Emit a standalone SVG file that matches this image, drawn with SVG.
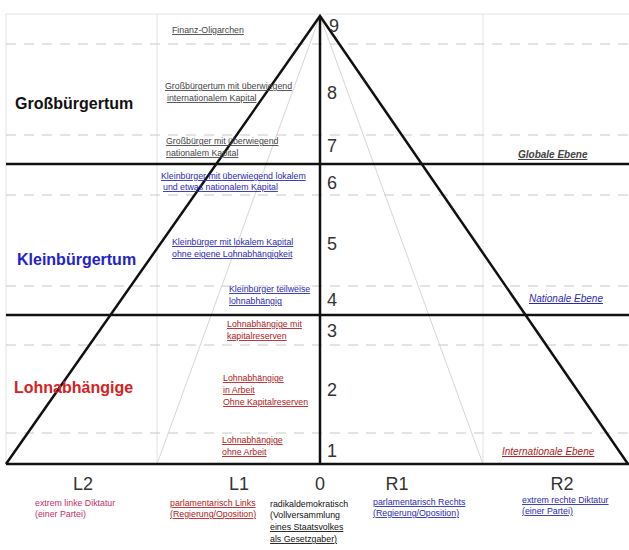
<svg xmlns="http://www.w3.org/2000/svg" width="629" height="550" viewBox="0 0 629 550">
<style>
.grid{stroke:#e2e2e2;stroke-width:1;fill:none}
.dash{stroke:#c8c8c8;stroke-width:1;stroke-dasharray:10,8;fill:none}
.thin{stroke:#d6d6d6;stroke-width:1;fill:none}
.heavy{stroke:#111;stroke-width:2.5;fill:none}
.num{font-family:"Liberation Sans",Arial,sans-serif;font-size:18px;fill:#333}
.big{font-family:"Liberation Sans",Arial,sans-serif;font-size:16px;font-weight:bold}
.sm{font-family:"Liberation Sans",Arial,sans-serif;font-size:8.8px;text-decoration:underline}
.lvl{font-family:"Liberation Sans",Arial,sans-serif;font-size:10px;font-style:italic;text-decoration:underline}
.grey{fill:#444}
.blue{fill:#2a2ab0}
.red{fill:#b02020}
</style>
<rect width="629" height="550" fill="#fff"/>
<g id="grid">
<line class="grid" x1="6" y1="14" x2="629" y2="14"/>
<line class="grid" x1="6" y1="14" x2="6" y2="464"/>
<line class="grid" x1="157" y1="14" x2="157" y2="464"/>
<line class="grid" x1="483" y1="14" x2="483" y2="464"/>
<line class="dash" x1="6" y1="44" x2="629" y2="44"/>
<line class="dash" x1="6" y1="135" x2="629" y2="135"/>
<line class="dash" x1="6" y1="195" x2="629" y2="195"/>
<line class="dash" x1="6" y1="286" x2="629" y2="286"/>
<line class="dash" x1="6" y1="345" x2="629" y2="345"/>
<line class="dash" x1="6" y1="433" x2="629" y2="433"/>
</g>
<g id="connectors">
<line class="thin" x1="320" y1="16" x2="157" y2="464"/>
<line class="thin" x1="320" y1="16" x2="483" y2="464"/>
<line class="heavy" x1="6" y1="164" x2="629" y2="164"/>
<line class="heavy" x1="6" y1="315" x2="629" y2="315"/>
<line class="heavy" x1="6" y1="464" x2="629" y2="464"/>
<line class="heavy" x1="320" y1="16" x2="320" y2="464"/>
<polyline class="heavy" points="6,464 320,16 628,464" stroke-linejoin="miter"/>
</g>
<g id="numbers">
<text class="num" x="329" y="32">9</text>
<text class="num" x="327" y="99">8</text>
<text class="num" x="327" y="152">7</text>
<text class="num" x="327" y="189">6</text>
<text class="num" x="327" y="250">5</text>
<text class="num" x="327" y="306">4</text>
<text class="num" x="327" y="337">3</text>
<text class="num" x="327" y="396">2</text>
<text class="num" x="327" y="457">1</text>
</g>
<g id="classes">
<text class="big" x="15" y="109" fill="#111">Großbürgertum</text>
<text class="big" x="17" y="265" fill="#2222cc">Kleinbürgertum</text>
<text class="big" x="14" y="393" fill="#d42222">Lohnabhängige</text>
</g>
<g id="n9"><text class="sm grey" x="172" y="33">Finanz-Oligarchen</text></g>
<g id="n8"><text class="sm grey" x="165" y="89">Großbürgertum mit überwiegend</text><text class="sm grey" x="167" y="101">internationalem Kapital</text></g>
<g id="n7"><text class="sm grey" x="166" y="144">Großbürger mit überwiegend</text><text class="sm grey" x="166" y="156">nationalem Kapital</text></g>
<g id="n6"><text class="sm blue" x="161" y="179">Kleinbürger mit überwiegend lokalem</text><text class="sm blue" x="163" y="190">und etwas nationalem Kapital</text></g>
<g id="n5"><text class="sm blue" x="172" y="245">Kleinbürger mit lokalem Kapital</text><text class="sm blue" x="172" y="257">ohne eigene Lohnabhängigkeit</text></g>
<g id="n4"><text class="sm blue" x="229" y="292">Kleinbürger teilweise</text><text class="sm blue" x="229" y="304">lohnabhängig</text></g>
<g id="n3"><text class="sm red" x="227" y="327">Lohnabhängige mit</text><text class="sm red" x="227" y="339">kapitalreserven</text></g>
<g id="n2"><text class="sm red" x="223" y="381">Lohnabhängige</text><text class="sm red" x="223" y="393">in Arbeit</text><text class="sm red" x="223" y="405">Ohne Kapitalreserven</text></g>
<g id="n1"><text class="sm red" x="222" y="443">Lohnabhängige</text><text class="sm red" x="222" y="455">ohne  Arbeit</text></g>
<g id="levels">
<text class="lvl grey" x="518" y="158" font-weight="bold">Globale Ebene</text>
<text class="lvl blue" x="529" y="302">Nationale Ebene</text>
<text class="lvl red" x="502" y="455">Internationale Ebene</text>
</g>
<g id="axis">
<text class="num" x="83" y="490" text-anchor="middle">L2</text>
<text class="num" x="239" y="490" text-anchor="middle">L1</text>
<text class="num" x="320" y="490" text-anchor="middle">0</text>
<text class="num" x="397" y="490" text-anchor="middle">R1</text>
<text class="num" x="562" y="490" text-anchor="middle">R2</text>
</g>
<g id="b-l2"><text class="sm" x="35" y="506" fill="#c0306a" style="text-decoration:none">extrem linke Diktatur</text><text class="sm" x="35" y="517" fill="#c0306a" style="text-decoration:none">(einer Partei)</text></g>
<g id="b-l1"><text class="sm red" x="170" y="506">parlamentarisch Links</text><text class="sm red" x="170" y="517">(Regierung/Oposition)</text></g>
<g id="b-0"><text class="sm" x="270" y="507" fill="#111" style="text-decoration:none">radikaldemokratisch</text><text class="sm" x="270" y="518" fill="#111" style="text-decoration:none">(Vollversammlung</text><text class="sm" x="270" y="530" fill="#111">eines Staatsvolkes</text><text class="sm" x="270" y="542" fill="#111">als Gesetzgaber)</text></g>
<g id="b-r1"><text class="sm blue" x="373" y="505">parlamentarisch Rechts</text><text class="sm blue" x="373" y="516">(Regierung/Oposition)</text></g>
<g id="b-r2"><text class="sm blue" x="522" y="503">extrem rechte Diktatur</text><text class="sm blue" x="522" y="514">(einer Partei)</text></g>
</svg>
